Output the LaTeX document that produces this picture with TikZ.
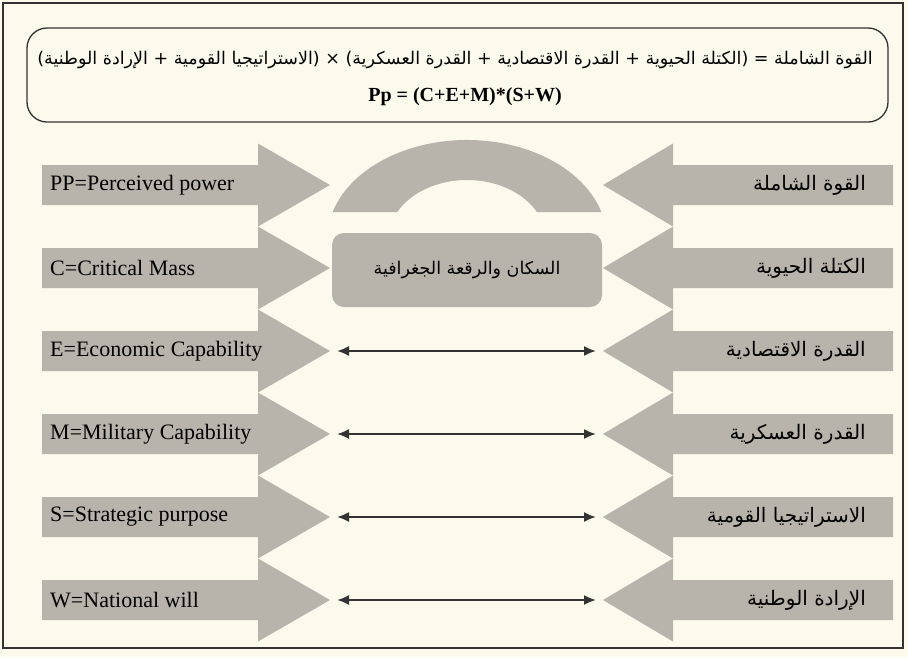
\documentclass[tikz,border=0pt]{standalone}
\usepackage{fontspec}
\setmainfont{Liberation Serif}
\newfontfamily\arabicfont[Script=Arabic]{DejaVu Sans}
\newfontfamily\symfont{DejaVu Sans}
\TeXXeTstate=1
\usetikzlibrary{arrows.meta}
\definecolor{paper}{HTML}{FCF9ED}
\definecolor{blockgray}{HTML}{B8B3AB}
\definecolor{ink}{HTML}{333333}
\newcommand\arph[1]{\hbox{\arabicfont\beginR #1\endR}}
\newcommand\symb[1]{\hbox{\symfont #1}}
\tikzset{
  lefttext/.style={anchor=west, inner sep=0pt, font=\fontsize{22}{24}\selectfont},
  righttext/.style={anchor=east, inner sep=0pt, font=\arabicfont\fontsize{20}{22}\selectfont},
  blockfill/.style={fill=blockgray},
  dblarrow/.style={draw=ink, line width=2pt, {Latex[length=12pt,width=10pt]}-{Latex[length=12pt,width=10pt]}, shorten <=7pt, shorten >=7pt},
}
\begin{document}
\begin{tikzpicture}[x=1pt, y=-1pt]
  \useasboundingbox (0,0) rectangle (908,657);
  \fill[paper] (0,0) rectangle (908,657);
  % outer frame
  \draw[ink, line width=1.3pt] (3,3) rectangle (903,648);
  % formula box
  \draw[ink, line width=1.3pt, rounded corners=20pt] (27,28) rectangle (888,122);
  \node[inner sep=0pt, font=\arabicfont\fontsize{17.5}{22}\selectfont] (formula) at (455,60)
    {\symb{(}\arph{الإرادة الوطنية}\ \symb{+}\ \arph{الاستراتيجيا القومية}\symb{)}\ \symb{×}\ \symb{(}\arph{القدرة العسكرية}\ \symb{+}\ \arph{القدرة الاقتصادية}\ \symb{+}\ \arph{الكتلة الحيوية}\symb{)}\ \symb{=}\ \arph{القوة الشاملة}};
  \node[inner sep=0pt, font=\bfseries\fontsize{20}{24}\selectfont] (pp) at (465,97) {Pp = (C+E+M)*(S+W)};
  % block arrows
  \foreach \i/\yy/\lt/\rt in {
    1/185/{PP=Perceived power}/{القوة الشاملة},
    2/268/{C=Critical Mass}/{الكتلة الحيوية},
    3/351/{E=Economic Capability}/{القدرة الاقتصادية},
    4/434/{M=Military Capability}/{القدرة العسكرية},
    5/517/{S=Strategic purpose}/{الاستراتيجيا القومية},
    6/600/{W=National will}/{الإرادة الوطنية}}{
    \fill[blockfill] (42,\yy-20) -- (258,\yy-20) -- (258,\yy-41.5) -- (330,\yy) -- (258,\yy+41.5) -- (258,\yy+20) -- (42,\yy+20) -- cycle;
    \fill[blockfill] (893,\yy-20) -- (673,\yy-20) -- (673,\yy-41.5) -- (603,\yy) -- (673,\yy+41.5) -- (673,\yy+20) -- (893,\yy+20) -- cycle;
    \coordinate (lt\i) at (330,\yy);
    \coordinate (rt\i) at (603,\yy);
    \node[lefttext] (l\i) at (50,\yy) {\lt};
    \node[righttext] (r\i) at (866,\yy) {\arph{\rt}};
  }
  % arch
  \fill[blockfill] (332.6,212) arc[start angle=196.26, end angle=343.74, x radius=140, y radius=100]
     -- (536.9,212) arc[start angle=332.18, end angle=207.82, x radius=79, y radius=60] -- cycle;
  % centre box
  \fill[blockfill, rounded corners=12pt] (332,233) rectangle (602,307);
  \node[inner sep=0pt, font=\arabicfont\fontsize{17.5}{22}\selectfont] (centre) at (467,270) {\arph{السكان والرقعة الجغرافية}};
  % double arrows
  \foreach \i in {3,4,5,6}{
    \draw[dblarrow] (lt\i) -- (rt\i);
  }
\end{tikzpicture}
\end{document}
